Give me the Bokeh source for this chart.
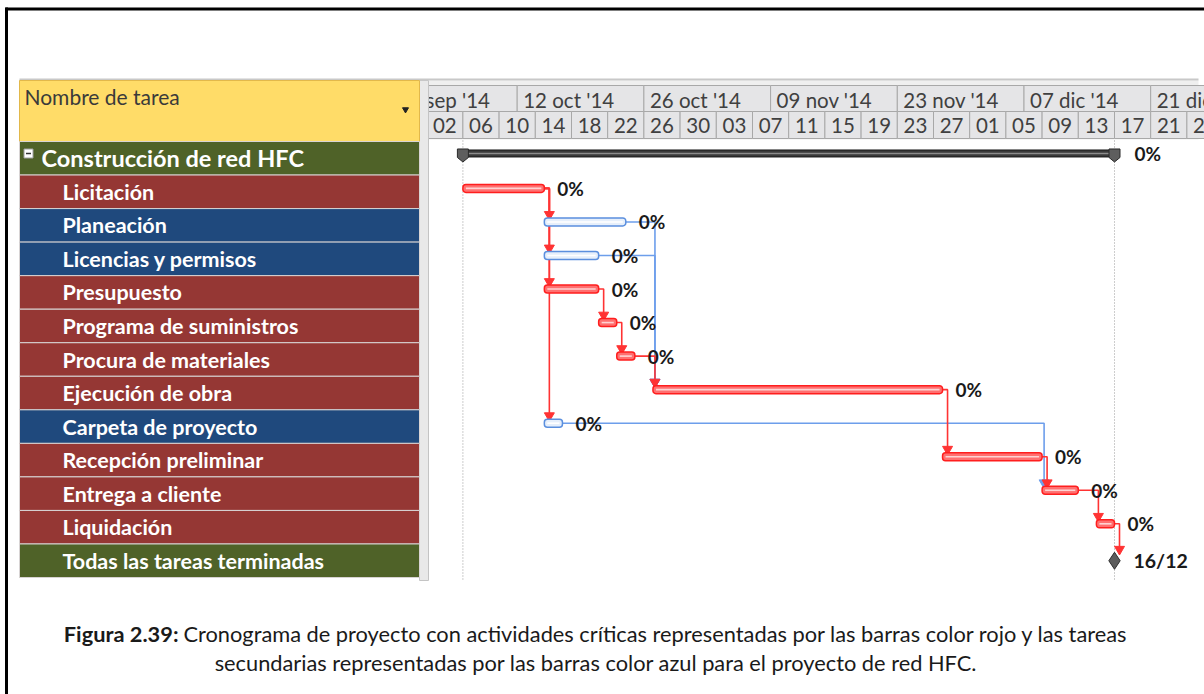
import pandas as pd
from bokeh.plotting import figure
from bokeh.models import Range1d
from bokeh.core.properties import value
from bokeh.embed import file_html
from bokeh.resources import INLINE

# ---------------- data ----------------
tasks = ["Construcción de red HFC", "Licitación", "Planeación", "Licencias y permisos",
         "Presupuesto", "Programa de suministros", "Procura de materiales",
         "Ejecución de obra", "Carpeta de proyecto", "Recepción preliminar",
         "Entrega a cliente", "Liquidación", "Todas las tareas terminadas"]
kinds = ["summary", "critical", "normal", "normal", "critical", "critical", "critical",
         "critical", "normal", "critical", "critical", "critical", "milestone"]
starts = ["2014-10-06", "2014-10-06", "2014-10-15", "2014-10-15", "2014-10-15", "2014-10-21",
          "2014-10-23", "2014-10-27", "2014-10-15", "2014-11-28", "2014-12-09", "2014-12-15",
          "2014-12-17"]
finishes = ["2014-12-17", "2014-10-15", "2014-10-24", "2014-10-21", "2014-10-21", "2014-10-23",
            "2014-10-25", "2014-11-28", "2014-10-17", "2014-12-09", "2014-12-13", "2014-12-17",
            "2014-12-17"]
pct_complete = [0, 0, 0, 0, 0, 0, 0, 0, 0, 0, 0, 0]
milestone_label = "16/12"

link_pred = [1, 1, 1, 1, 4, 5, 6, 2, 3, 7, 9, 8, 10, 11]
link_succ = [2, 3, 4, 8, 5, 6, 7, 7, 7, 9, 10, 10, 11, 12]
link_critical = [True, True, True, True, True, True, True, False, False, True, True, False, True, True]

top_tier_dates = ["2014-09-28", "2014-10-12", "2014-10-26", "2014-11-09", "2014-11-23",
                  "2014-12-07", "2014-12-21"]
top_tier_labels = ["28 sep '14", "12 oct '14", "26 oct '14", "09 nov '14", "23 nov '14",
                   "07 dic '14", "21 dic '14"]
bottom_tier_dates = ["2014-09-28", "2014-10-02", "2014-10-06", "2014-10-10", "2014-10-14",
                     "2014-10-18", "2014-10-22", "2014-10-26", "2014-10-30", "2014-11-03",
                     "2014-11-07", "2014-11-11", "2014-11-15", "2014-11-19", "2014-11-23",
                     "2014-11-27", "2014-12-01", "2014-12-05", "2014-12-09", "2014-12-13",
                     "2014-12-17", "2014-12-21", "2014-12-25"]
bottom_tier_labels = ["28", "02", "06", "10", "14", "18", "22", "26", "30", "03", "07", "11",
                      "15", "19", "23", "27", "01", "05", "09", "13", "17", "21", "25"]

caption_bold = "Figura 2.39:"
caption_line1 = ("Cronograma de proyecto con actividades críticas representadas por las barras "
                 "color rojo y las tareas")
caption_line2 = "secundarias representadas por las barras color azul para el proyecto de red HFC."

# ---------------- layout constants ----------------
W, H = 1204, 694
X0, Y0 = 0, 0
X1, Y1 = X0 + W, Y0 + H
ORIGIN = pd.Timestamp("2014-10-12")
ORIGIN_PX = 516.7
PX_DAY = 9.05
ROW_TOP = 141.0
ROW_H = 33.54
FONT = "Lato"


def days(s):
    return [(pd.Timestamp(d) - ORIGIN).days for d in s]


def dpx(px):
    return px / PX_DAY


def rpx(px):
    return px / ROW_H


d_start = days(starts)
d_finish = days(finishes)
d_top = days(top_tier_dates)
d_bot = days(bottom_tier_dates)

p = figure(width=W, height=H, x_range=Range1d(X0, X1), y_range=Range1d(Y1, Y0),
           x_axis_type=None, y_axis_type=None, output_backend="svg",
           toolbar_location=None, min_border=0, outline_line_color=None,
           background_fill_color="white", border_fill_color="white")
p.grid.visible = False
p.extra_x_ranges = {"days": Range1d((X0 - ORIGIN_PX) / PX_DAY, (X1 - ORIGIN_PX) / PX_DAY)}
p.extra_y_ranges = {"rows": Range1d((Y1 - ROW_TOP) / ROW_H - 0.5, (Y0 - ROW_TOP) / ROW_H - 0.5)}
DX = dict(x_range_name="days")
DXY = dict(x_range_name="days", y_range_name="rows")
RY = dict(y_range_name="rows")

# ---------------- timescale header ----------------
p.quad(left=[428], right=[1198], top=[80], bottom=[139], fill_color="#EFEFEF", line_color=None)
p.quad(left=d_top, right=[d + 14 for d in d_top], top=85, bottom=111,
       fill_color="#E5E5E7", line_color="#A8A8A8", line_width=1, **DX)
p.quad(left=d_bot, right=[d + 4 for d in d_bot], top=111, bottom=138,
       fill_color="#E5E5E7", line_color="#A8A8A8", line_width=1, **DX)
p.text(x=d_top, y=99, text=top_tier_labels, x_offset=6, text_align="left",
       text_baseline="middle", text_font=value(FONT), text_font_size="20.5px",
       text_color="#404040", **DX)
p.text(x=[d + 2 for d in d_bot], y=125, text=bottom_tier_labels, text_align="center",
       text_baseline="middle", text_font=value(FONT), text_font_size="20.5px",
       text_color="#404040", **DX)

# project start / finish dotted lines
p.segment(x0=[d_start[0], d_finish[0]], x1=[d_start[0], d_finish[0]], y0=140, y1=580,
          line_color="#9A9A9A", line_width=1, line_dash="1 2", **DX)

# ---------------- links ----------------
BAR_OFF = rpx(3.4)
BAR_H = rpx(8)


def bar_y(i):
    if kinds[i] == "milestone":
        return i
    if kinds[i] == "summary":
        return i - rpx(4.8)
    return i - BAR_OFF


for crit in (False, True):
    xs, ys, ax, ay = [], [], [], []
    for pr, su, c in zip(link_pred, link_succ, link_critical):
        if c != crit:
            continue
        pe = d_finish[pr]
        ss = d_start[su]
        vx = max(pe + dpx(5), ss + dpx(2))
        py = bar_y(pr)
        top = bar_y(su) - (rpx(8) if kinds[su] == "milestone" else BAR_H / 2)
        xs.append([pe, vx, vx])
        ys.append([py, py, top - rpx(5)])
        ax.append(vx)
        ay.append(top - rpx(3.5))
    col = "#FF3333" if crit else "#6D9EEB"
    p.multi_line(xs=xs, ys=ys, line_color=col, line_width=1.6, **DXY)
    p.scatter(x=ax, y=ay, marker="inverted_triangle", size=10, fill_color=col,
              line_color=col, **DXY)

# ---------------- bars ----------------
for kind, fill, line, inner in (("critical", "#FF7070", "#FF1E1E", "#FFD2D2"),
                                ("normal", "#E6EFFB", "#5B8FDE", "#FFFFFF")):
    idx = [i for i, k in enumerate(kinds) if k == kind]
    p.hbar(y=[bar_y(i) for i in idx], left=[d_start[i] for i in idx],
           right=[d_finish[i] for i in idx], height=BAR_H, fill_color=fill,
           line_color=line, line_width=1.5, border_radius=3, **DXY)
    p.segment(x0=[d_start[i] + dpx(3) for i in idx], x1=[d_finish[i] - dpx(3) for i in idx],
              y0=[bar_y(i) for i in idx], y1=[bar_y(i) for i in idx],
              line_color=inner, line_width=1.6, **DXY)

# summary bar
sy = bar_y(0)
p.hbar(y=[sy], left=[d_start[0]], right=[d_finish[0]], height=rpx(7),
       fill_color="#3A3A3A", line_color="#1A1A1A", line_width=1, **DXY)
p.segment(x0=[d_start[0]], x1=[d_finish[0]], y0=[sy], y1=[sy], line_color="#8C8C8C",
          line_width=1.5, **DXY)
cap_xs, cap_ys = [], []
for d in (d_start[0], d_finish[0]):
    cap_xs.append([d - dpx(5.5), d + dpx(5.5), d + dpx(5.5), d, d - dpx(5.5)])
    cap_ys.append([sy - rpx(4.5), sy - rpx(4.5), sy + rpx(4), sy + rpx(8.5), sy + rpx(4)])
p.patches(xs=cap_xs, ys=cap_ys, fill_color="#5E5E5E", line_color="#2A2A2A", line_width=1,
          **DXY)

# milestone
p.scatter(x=[d_finish[12]], y=[12], marker="diamond", size=17, fill_color="#5C5C5C",
          line_color="#2E2E2E", line_width=1, **DXY)

# percentage labels
lab_x = [d_finish[i] for i in range(12)]
lab_y = [bar_y(i) for i in range(12)]
lab_t = [f"{v}%" for v in pct_complete]
lab_off = [20] + [13] * 11
p.text(x=lab_x, y=lab_y, text=lab_t, x_offset=lab_off, text_align="left",
       text_baseline="middle", text_font=value(FONT), text_font_size="19px",
       text_font_style="bold", text_color="#1A1A1A", **DXY)
p.text(x=[d_finish[12]], y=[12], text=[milestone_label], x_offset=19, text_align="left",
       text_baseline="middle", text_font=value(FONT), text_font_size="19.5px",
       text_font_style="bold", text_color="#1A1A1A", **DXY)

# ---------------- task table ----------------
p.quad(left=[X0], right=[428], top=[80], bottom=[580], fill_color="white", line_color=None)
p.quad(left=[419], right=[428], top=[80], bottom=[580], fill_color="#E9E9E9",
       line_color="#C4C4C4", line_width=1)
p.segment(x0=[19], x1=[1198], y0=[79], y1=[79], line_color="#C8C8C8", line_width=2)
p.quad(left=[19], right=[419], top=[80], bottom=[141], fill_color="#FFDC68",
       line_color="#E2B84A", line_width=1)
p.text(x=[24], y=[96], text=["Nombre de tarea"], text_align="left", text_baseline="middle",
       text_font=value(FONT), text_font_size="21px", text_color="#3A3A3A")
p.scatter(x=[405], y=[109], marker="inverted_triangle", size=6, fill_color="#222222",
          line_color="#222222")

row_col = {"summary": "#4F6228", "milestone": "#4F6228", "critical": "#953734",
           "normal": "#1F497D"}
rows = list(range(len(tasks)))
p.quad(left=19, right=419, top=[r - 0.5 for r in rows], bottom=[r + 0.5 for r in rows],
       fill_color=[row_col[k] for k in kinds], line_color="#D8D4D4", line_width=1, **RY)
p.text(x=[41], y=[0], text=[tasks[0]], text_align="left", text_baseline="middle",
       text_font=value(FONT), text_font_size="23.5px", text_font_style="bold",
       text_color="white", **RY)
p.text(x=62, y=rows[1:], text=tasks[1:], text_align="left", text_baseline="middle",
       text_font=value(FONT), text_font_size="21.5px", text_font_style="bold",
       text_color="white", **RY)
# collapse box
p.rect(x=[28], y=[153], width=9, height=9, fill_color="white", line_color="#A0A0A0",
       line_width=1)
p.segment(x0=[25.5], x1=[30.5], y0=[153], y1=[153], line_color="#333333", line_width=1.5)

# ---------------- outer border ----------------
p.segment(x0=[5], x1=[X1], y0=[8.5], y1=[8.5], line_color="black", line_width=3)
p.segment(x0=[6], x1=[6], y0=[7], y1=[Y1], line_color="black", line_width=3)

# ---------------- caption ----------------
p.text(x=[178], y=[633], text=[caption_bold], text_align="right", text_baseline="middle",
       text_font=value(FONT), text_font_size="21.8px", text_font_style="bold",
       text_color="#1A1A1A")
p.text(x=[183], y=[633], text=[caption_line1], text_align="left", text_baseline="middle",
       text_font=value(FONT), text_font_size="21.8px", text_color="#1A1A1A")
p.text(x=[595.5], y=[662], text=[caption_line2], text_align="center", text_baseline="middle",
       text_font=value(FONT), text_font_size="21.8px", text_color="#1A1A1A")

open("out.html", "w").write(file_html(p, INLINE))
